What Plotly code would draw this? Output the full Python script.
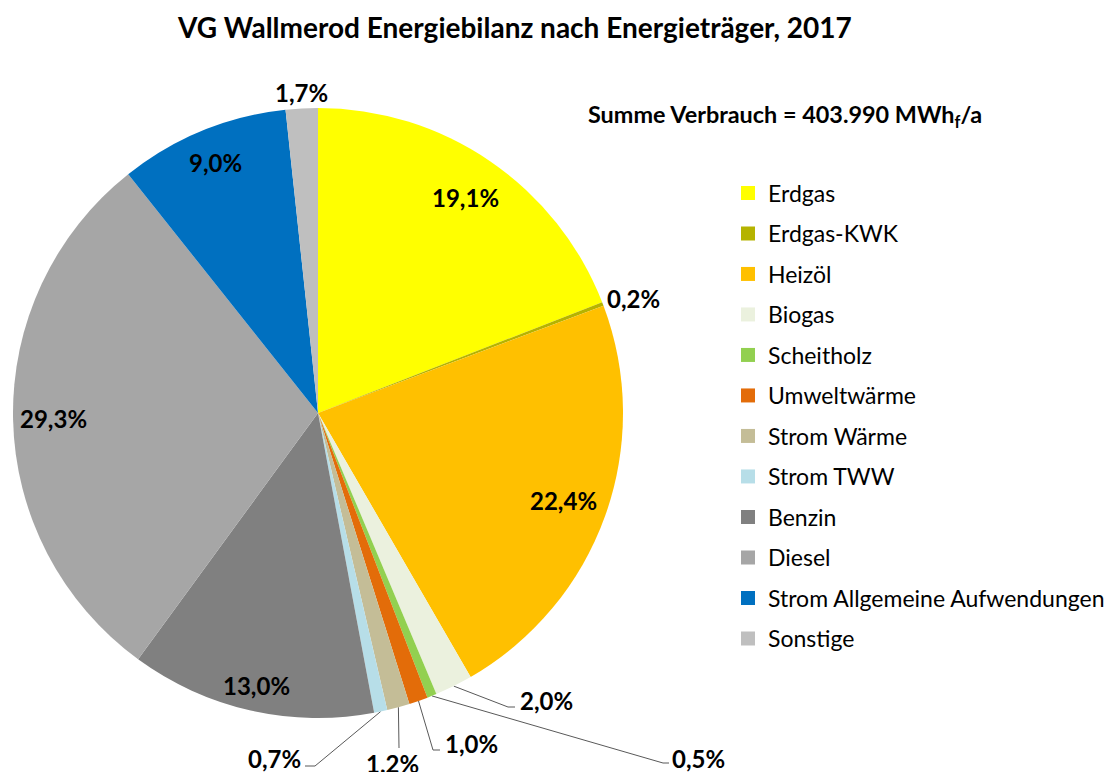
import numpy as np
import plotly.graph_objects as go

# ---- data ----
categories = ["Erdgas", "Erdgas-KWK", "Heizöl", "Biogas", "Scheitholz", "Umweltwärme",
              "Strom Wärme", "Strom TWW", "Benzin", "Diesel",
              "Strom Allgemeine Aufwendungen", "Sonstige"]
shares = [19.1, 0.2, 22.4, 2.0, 0.5, 1.0, 1.2, 0.7, 13.0, 29.3, 9.0, 1.7]
label_texts = ["19,1%", "0,2%", "22,4%", "2,0%", "0,5%", "1,0%", "1,2%", "0,7%",
               "13,0%", "29,3%", "9,0%", "1,7%"]
title_text = "VG Wallmerod Energiebilanz nach Energieträger, 2017"
sum_text = "Summe Verbrauch = 403.990 MWh<sub>f</sub>/a"

# ---- styles ----
colors = ["#FFFF00", "#B5B300", "#FFC000", "#EBF1DE", "#92D050", "#E36C09",
          "#C4BD97", "#B7DEE8", "#808080", "#A6A6A6", "#0070C0", "#BFBFBF"]
SW, SH = 1113, 772          # screen size
OFF = 8                     # page body margin
W, H = SW - OFF, SH - OFF   # figure size
CX, CY, R = 318.0, 413.0, 305.0
FONT = "Lato"

inside_frac = {0: 0.857, 2: 0.855, 8: 0.915, 9: 0.868, 10: 0.886}
outside = {
    1: (605, 298, "left", []),
    11: (301, 92, "center", []),
    3: (518, 700, "left", [(508, 707), (515, 707)]),
    4: (670, 758, "left", [(663, 763), (669, 763)]),
    5: (443, 743, "left", [(433, 750), (440, 750)]),
    6: (392, 763, "center", [(399, 748)]),
    7: (303, 758, "right", [(315, 766), (305, 766)]),
}

vals = np.array(shares, dtype=float)
cum = np.cumsum(vals)
mid = (cum - vals / 2) / vals.sum() * 2 * np.pi  # clockwise from 12 o'clock


def polar(i, frac):
    return CX + R * frac * np.sin(mid[i]), CY - R * frac * np.cos(mid[i])


def px_x(x):
    return (x - OFF) / W


def px_y(y):
    return (SH - y) / H


fig = go.Figure()
fig.add_trace(go.Pie(
    labels=categories, values=shares, sort=False, direction="clockwise", rotation=0,
    marker=dict(colors=colors, line=dict(width=0)),
    textinfo="none", showlegend=False,
    domain=dict(x=[px_x(CX - R), px_x(CX + R)], y=[px_y(CY + R), px_y(CY - R)]),
))

for i, (lx, ly, anc, pts) in outside.items():
    if not pts:
        continue
    ex, ey = polar(i, 1.0)
    xs = [ex] + [p[0] for p in pts]
    ys = [ey] + [p[1] for p in pts]
    fig.add_trace(go.Scatter(x=xs, y=ys, mode="lines", line=dict(color="#595959", width=1),
                             showlegend=False, hoverinfo="skip"))

for c, col in zip(categories, colors):
    fig.add_trace(go.Scatter(x=[None], y=[None], mode="markers", name=c, legendgroup=c,
                             marker=dict(symbol="square", size=14, color=col)))

lab_font = dict(family=FONT, size=24, color="#000000", weight="bold")
annotations = []
for i, f in inside_frac.items():
    x, y = polar(i, f)
    annotations.append(dict(x=x, y=y, xref="x", yref="y", text=label_texts[i], showarrow=False,
                            font=lab_font))
for i, (lx, ly, anc, pts) in outside.items():
    annotations.append(dict(x=lx, y=ly, xref="x", yref="y", text=label_texts[i], showarrow=False,
                            xanchor=anc, yanchor="middle", font=lab_font))
annotations.append(dict(x=514, y=27, xref="x", yref="y", text=title_text, showarrow=False,
                        font=dict(family=FONT, size=28, color="#000000", weight="bold")))
annotations.append(dict(x=785, y=115, xref="x", yref="y", text=sum_text, showarrow=False,
                        font=dict(family=FONT, size=23.4, color="#000000", weight="bold")))

fig.update_layout(
    width=W, height=H, margin=dict(l=0, r=0, t=0, b=0),
    paper_bgcolor="white", plot_bgcolor="rgba(0,0,0,0)",
    xaxis=dict(range=[OFF, SW], visible=False, fixedrange=True),
    yaxis=dict(range=[SH, OFF], visible=False, fixedrange=True),
    showlegend=True,
    legend=dict(x=px_x(728), y=px_y(171.5), xanchor="left", yanchor="top",
                font=dict(family=FONT, size=23, color="#000000"),
                tracegroupgap=7.6, itemclick=False, itemdoubleclick=False,
                bgcolor="rgba(0,0,0,0)"),
    annotations=annotations,
)
fig.write_html("out.html")
